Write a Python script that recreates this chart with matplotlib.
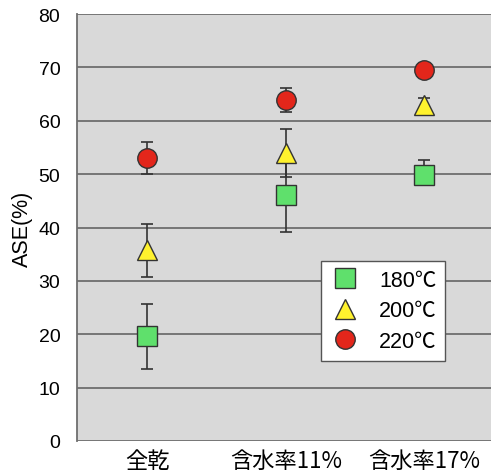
import matplotlib
matplotlib.use("Agg")
import matplotlib.pyplot as plt
from matplotlib.lines import Line2D

categories = ["全乾", "含水率11%", "含水率17%"]
labels = ["180℃", "200℃", "220℃"]
vals_180 = [19.6, 46.0, 49.9]
err_180_lo = [6.1, 6.8, 1.5]
err_180_hi = [6.1, 6.8, 2.7]
vals_200 = [35.7, 54.0, 63.0]
err_200_lo = [5.0, 4.5, 1.0]
err_200_hi = [5.0, 4.5, 1.2]
vals_220 = [53.0, 63.9, 69.6]
err_220_lo = [3.0, 2.3, 0.0]
err_220_hi = [3.0, 2.3, 0.0]
yticks = [0, 10, 20, 30, 40, 50, 60, 70, 80]

W, H = 491, 477
fig = plt.figure(figsize=(W/100, H/100), dpi=100)
ax = fig.add_axes([77/W, 1-442/H, (491-77)/W, (442-15)/H])
ax.set_facecolor("#d9d9d9")

x = list(range(len(categories)))
series = [
    (vals_180, err_180_lo, err_180_hi, "s", "#5fe06c", labels[0]),
    (vals_200, err_200_lo, err_200_hi, "^", "#fff22e", labels[1]),
    (vals_220, err_220_lo, err_220_hi, "o", "#e3261b", labels[2]),
]
handles = []
for vals, elo, ehi, mk, col, lab in series:
    ax.errorbar(x, vals, yerr=[elo, ehi], fmt="none", ecolor="#333333", elinewidth=1.2,
                capsize=4, capthick=1.2, zorder=3)
    ms = 14 if mk != "^" else 15
    ax.plot(x, vals, linestyle="none", marker=mk, markersize=ms,
            markerfacecolor=col, markeredgecolor="#333333", markeredgewidth=1.0, zorder=4)
    handles.append(Line2D([], [], linestyle="none", marker=mk, markersize=ms,
                          markerfacecolor=col, markeredgecolor="#333333",
                          markeredgewidth=1.0, label=lab))

ax.set_ylim(0, 80)
ax.set_xlim(-0.506, 2.48)
ax.set_yticks(yticks)
ax.set_yticklabels([str(t) for t in yticks], fontfamily="Liberation Sans", fontsize=14)
ax.set_xticks(x)
ax.set_xticklabels(categories, fontfamily=["Noto Sans CJK JP", "DejaVu Sans"], fontsize=16)
ax.tick_params(axis="y", length=0, pad=12)
ax.tick_params(axis="x", length=0, pad=6)
ax.yaxis.grid(True, color="#6e6e6e", linewidth=1.3)
ax.set_axisbelow(True)
for side in ["top", "right", "bottom"]:
    ax.spines[side].set_visible(False)
ax.spines["left"].set_color("#6e6e6e")
ax.spines["left"].set_linewidth(1.3)
ax.set_ylabel("ASE(%)", fontfamily="Liberation Sans", fontsize=15.5, labelpad=4)

leg = ax.legend(handles=handles, loc="upper left", bbox_to_anchor=((321-77)/414, (442-262)/427),
                frameon=True, fancybox=False, edgecolor="#555555", facecolor="white",
                prop={"family": ["Liberation Sans", "Noto Sans CJK JP"], "size": 15.5},
                handletextpad=0.9, labelspacing=0.45, borderpad=0.4, handlelength=1.4,
                borderaxespad=0)
leg.get_frame().set_linewidth(1.0)
leg.get_frame().set_alpha(1)

fig.savefig("out.png", dpi=100)
